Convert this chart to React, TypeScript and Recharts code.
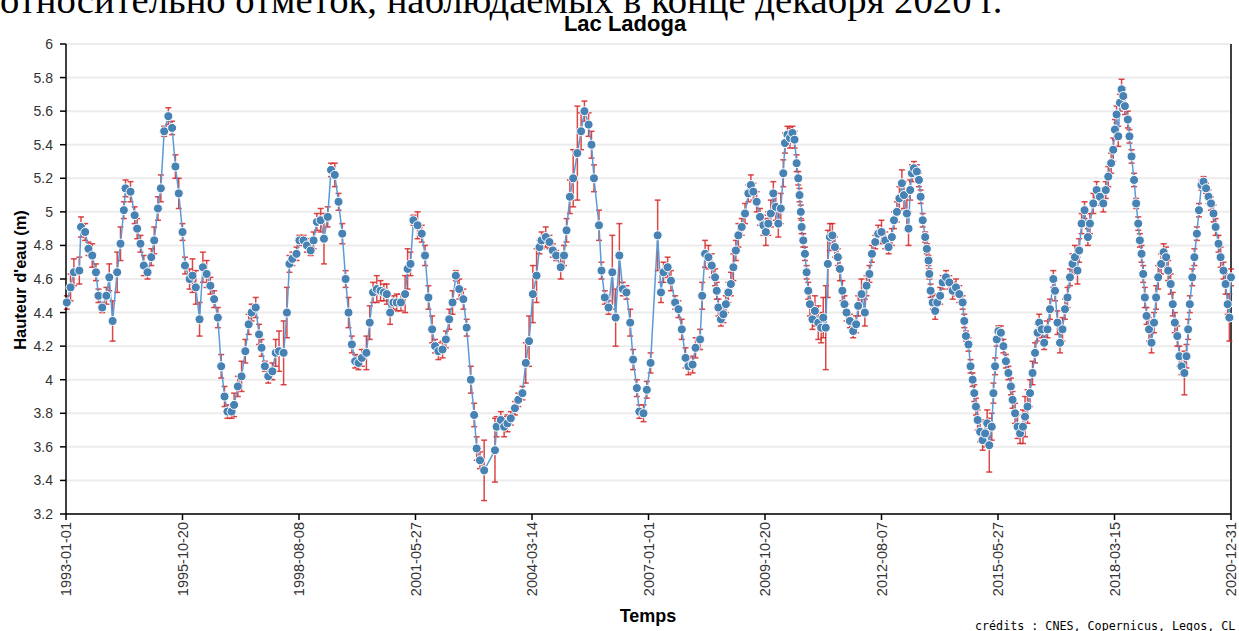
import React from 'react'
import { LineChart, Line, XAxis, YAxis, CartesianGrid, ErrorBar, ReferenceLine } from 'recharts'

// Lac Ladoga — hauteur d'eau (m), dates en années décimales
const dates = [
  1993.02, 1993.11, 1993.19, 1993.32, 1993.36, 1993.46, 1993.54, 1993.63, 1993.72, 1993.78, 1993.87, 1993.97,
  1994.04, 1994.12, 1994.23, 1994.31, 1994.39, 1994.43, 1994.55, 1994.65, 1994.71, 1994.79, 1994.87, 1994.96,
  1995.05, 1995.12, 1995.21, 1995.28, 1995.36, 1995.46, 1995.55, 1995.63, 1995.71, 1995.80, 1995.86, 1995.97,
  1996.04, 1996.12, 1996.21, 1996.29, 1996.38, 1996.47, 1996.56, 1996.65, 1996.73, 1996.81, 1996.88, 1996.98,
  1997.04, 1997.13, 1997.22, 1997.31, 1997.39, 1997.46, 1997.56, 1997.64, 1997.70, 1997.78, 1997.86, 1997.96,
  1998.04, 1998.12, 1998.23, 1998.31, 1998.37, 1998.44, 1998.54, 1998.61, 1998.71, 1998.79, 1998.88, 1998.95,
  1999.03, 1999.12, 1999.20, 1999.29, 1999.37, 1999.46, 1999.55, 1999.64, 1999.72, 1999.79, 1999.87, 1999.95,
  2000.03, 2000.11, 2000.22, 2000.30, 2000.38, 2000.47, 2000.56, 2000.64, 2000.71, 2000.79, 2000.87, 2000.95,
  2001.05, 2001.15, 2001.21, 2001.28, 2001.35, 2001.45, 2001.55, 2001.63, 2001.71, 2001.80, 2001.87, 2001.95,
  2002.05, 2002.13, 2002.21, 2002.29, 2002.37, 2002.45, 2002.55, 2002.63, 2002.73, 2002.81, 2002.87, 2002.95,
  2003.05, 2003.31, 2003.35, 2003.45, 2003.53, 2003.61, 2003.69, 2003.79, 2003.87, 2003.97,
  2004.05, 2004.13, 2004.22, 2004.31, 2004.38, 2004.43, 2004.53, 2004.62, 2004.70, 2004.78, 2004.89, 2004.97,
  2005.03, 2005.11, 2005.19, 2005.29, 2005.38, 2005.46, 2005.56, 2005.63, 2005.69, 2005.81, 2005.87, 2005.95,
  2006.04, 2006.13, 2006.21, 2006.30, 2006.38, 2006.47, 2006.56, 2006.63, 2006.72, 2006.78, 2006.88, 2006.96,
  2007.05, 2007.22, 2007.30, 2007.36, 2007.46, 2007.54, 2007.64, 2007.72, 2007.80, 2007.89, 2007.96,
  2008.06, 2008.13, 2008.24, 2008.29, 2008.36, 2008.44, 2008.52, 2008.60, 2008.64, 2008.68, 2008.74, 2008.80, 2008.86, 2008.92, 2008.98,
  2009.04, 2009.10, 2009.16, 2009.24, 2009.32, 2009.40, 2009.46, 2009.52, 2009.60, 2009.68, 2009.76, 2009.82, 2009.88, 2009.94,
  2010.00, 2010.06, 2010.12, 2010.18, 2010.24, 2010.28, 2010.34, 2010.40, 2010.46, 2010.51, 2010.56, 2010.60, 2010.63, 2010.66, 2010.68, 2010.72, 2010.76, 2010.80, 2010.84, 2010.88, 2010.94,
  2011.00, 2011.08, 2011.15, 2011.20, 2011.26, 2011.31, 2011.36, 2011.42, 2011.48, 2011.55, 2011.60, 2011.66, 2011.71, 2011.76, 2011.84, 2011.92, 2011.99,
  2012.04, 2012.12, 2012.20, 2012.24, 2012.31, 2012.37, 2012.45, 2012.52, 2012.60, 2012.69, 2012.77, 2012.85, 2012.90, 2012.97,
  2013.03, 2013.09, 2013.14, 2013.21, 2013.25, 2013.29, 2013.33, 2013.38, 2013.45, 2013.50, 2013.54, 2013.59, 2013.65, 2013.69, 2013.73, 2013.75, 2013.78, 2013.83, 2013.89, 2013.94,
  2014.01, 2014.07, 2014.15, 2014.23, 2014.31, 2014.39, 2014.47, 2014.55, 2014.59, 2014.63, 2014.69, 2014.74, 2014.79, 2014.83, 2014.87, 2014.91, 2014.97,
  2015.03, 2015.09, 2015.14, 2015.19, 2015.25, 2015.29, 2015.33, 2015.37, 2015.41, 2015.47, 2015.53, 2015.59, 2015.65, 2015.71, 2015.75, 2015.81, 2015.87, 2015.93,
  2016.00, 2016.05, 2016.11, 2016.17, 2016.23, 2016.29, 2016.35, 2016.39, 2016.45, 2016.51, 2016.59, 2016.65, 2016.73, 2016.77, 2016.83, 2016.89, 2016.95,
  2017.01, 2017.07, 2017.13, 2017.19, 2017.25, 2017.31, 2017.35, 2017.41, 2017.48, 2017.56, 2017.61, 2017.69, 2017.77, 2017.85, 2017.93, 2017.99,
  2018.05, 2018.12, 2018.17, 2018.21, 2018.25, 2018.29, 2018.33, 2018.37, 2018.41, 2018.45, 2018.52, 2018.56, 2018.61, 2018.67, 2018.72, 2018.77, 2018.81, 2018.85, 2018.89, 2018.93, 2018.97,
  2019.03, 2019.09, 2019.15, 2019.20, 2019.25, 2019.32, 2019.38, 2019.44, 2019.49, 2019.55, 2019.60, 2019.65, 2019.71, 2019.76, 2019.81, 2019.88, 2019.93, 2019.97,
  2020.01, 2020.07, 2020.12, 2020.18, 2020.23, 2020.29, 2020.34, 2020.40, 2020.46, 2020.52, 2020.58, 2020.63, 2020.70, 2020.75, 2020.82, 2020.87, 2020.92, 2020.96, 2021.00,
]

const levels = [
  4.46, 4.55, 4.64, 4.65, 4.91, 4.88, 4.78, 4.74, 4.64, 4.50, 4.43, 4.50,
  4.61, 4.35, 4.64, 4.81, 5.01, 5.14, 5.12, 4.98, 4.90, 4.81, 4.68, 4.64,
  4.73, 4.83, 5.02, 5.14, 5.48, 5.57, 5.50, 5.27, 5.11, 4.88, 4.68, 4.60,
  4.62, 4.55, 4.36, 4.67, 4.63, 4.56, 4.48, 4.37, 4.08, 3.90, 3.81, 3.81,
  3.85, 3.96, 4.02, 4.17, 4.33, 4.40, 4.43, 4.27, 4.19, 4.08, 4.02, 4.05,
  4.16, 4.17, 4.16, 4.40, 4.69, 4.72, 4.75, 4.83, 4.83, 4.80, 4.77, 4.83,
  4.94, 4.95, 4.84, 4.97, 5.25, 5.22, 5.06, 4.87, 4.60, 4.40, 4.21, 4.11,
  4.10, 4.13, 4.16, 4.34, 4.52, 4.54, 4.53, 4.52, 4.51, 4.40, 4.46, 4.46,
  4.46, 4.51, 4.66, 4.69, 4.95, 4.92, 4.87, 4.74, 4.49, 4.30, 4.20, 4.17,
  4.18, 4.24, 4.36, 4.46, 4.62, 4.54, 4.48, 4.31, 4.00, 3.79, 3.59, 3.52,
  3.46, 3.58, 3.72, 3.76, 3.72, 3.74, 3.77, 3.83, 3.88, 3.92,
  4.10, 4.23, 4.51, 4.62, 4.79, 4.83, 4.85, 4.82, 4.77, 4.74, 4.67, 4.74,
  4.89, 5.09, 5.20, 5.35, 5.48, 5.60, 5.52, 5.40, 5.20, 4.92, 4.65, 4.49,
  4.43, 4.64, 4.37, 4.74, 4.54, 4.52, 4.34, 4.12, 3.95, 3.81, 3.80, 3.94,
  4.10, 4.86, 4.52, 4.64, 4.67, 4.59, 4.46, 4.42, 4.30, 4.13, 4.08,
  4.09, 4.19, 4.24, 4.50, 4.75, 4.73, 4.68, 4.61, 4.53, 4.43, 4.36, 4.39, 4.45, 4.52, 4.57,
  4.67, 4.77, 4.86, 4.91, 4.99, 5.11, 5.16, 5.12, 5.06, 4.97, 4.92, 4.88, 4.93, 4.99,
  5.11, 5.03, 4.93, 5.02, 5.23, 5.41, 5.46, 5.44, 5.47, 5.43, 5.29, 5.20, 5.10, 5.00, 4.91, 4.83, 4.75, 4.64, 4.53, 4.45, 4.36,
  4.41, 4.34, 4.31, 4.37, 4.31, 4.69, 4.85, 4.86, 4.79, 4.73, 4.66, 4.53, 4.45, 4.40, 4.35, 4.29, 4.33,
  4.44, 4.51, 4.40, 4.56, 4.63, 4.75, 4.82, 4.87, 4.88, 4.83, 4.79, 4.85, 4.95, 5.00,
  5.08, 5.17, 5.10, 4.99, 4.90, 5.13, 5.23, 5.26, 5.24, 5.19, 5.09, 4.95, 4.85, 4.78, 4.71, 4.63, 4.53, 4.46, 4.41, 4.46,
  4.50, 4.58, 4.61, 4.58, 4.53, 4.55, 4.51, 4.46, 4.35, 4.26, 4.21, 4.08, 4.00, 3.92, 3.84, 3.76, 3.69,
  3.64, 3.68, 3.74, 3.61, 3.72, 3.92, 4.08, 4.24, 4.29, 4.28, 4.20, 4.11, 4.04, 3.96, 3.88, 3.80, 3.72, 3.68,
  3.72, 3.78, 3.84, 3.92, 4.04, 4.16, 4.28, 4.34, 4.30, 4.22, 4.30, 4.42, 4.60, 4.53, 4.34, 4.22, 4.30,
  4.42, 4.49, 4.61, 4.69, 4.73, 4.65, 4.77, 4.93, 5.01, 4.85, 4.93, 5.05, 5.13, 5.09, 5.05, 5.13,
  5.21, 5.29, 5.37, 5.49, 5.58, 5.45, 5.65, 5.73, 5.69, 5.63, 5.55, 5.45, 5.33, 5.19, 5.05, 4.93, 4.83, 4.75, 4.63, 4.49, 4.38,
  4.30, 4.22, 4.34, 4.49, 4.61, 4.69, 4.76, 4.73, 4.65, 4.57, 4.45, 4.34, 4.26, 4.14, 4.08, 4.04, 4.14, 4.30,
  4.45, 4.61, 4.73, 4.87, 5.01, 5.16, 5.18, 5.14, 5.09, 5.05, 4.99, 4.91, 4.81, 4.73, 4.65, 4.57, 4.45, 4.37, 4.61,
]

const errors = [
  0.04, 0.08, 0.08, 0.08, 0.06, 0.05, 0.04, 0.07, 0.05, 0.04, 0.03, 0.05,
  0.08, 0.12, 0.12, 0.10, 0.05, 0.05, 0.06, 0.05, 0.06, 0.05, 0.06, 0.04,
  0.05, 0.08, 0.07, 0.08, 0.03, 0.05, 0.04, 0.07, 0.09, 0.05, 0.05, 0.06,
  0.10, 0.10, 0.10, 0.09, 0.08, 0.05, 0.05, 0.06, 0.07, 0.06, 0.04, 0.04,
  0.07, 0.06, 0.09, 0.07, 0.06, 0.05, 0.06, 0.06, 0.05, 0.03, 0.04, 0.05,
  0.08, 0.12, 0.19, 0.15, 0.05, 0.04, 0.04, 0.03, 0.03, 0.04, 0.03, 0.05,
  0.05, 0.07, 0.15, 0.06, 0.04, 0.07, 0.05, 0.06, 0.05, 0.09, 0.05, 0.04,
  0.04, 0.05, 0.10, 0.10, 0.06, 0.08, 0.06, 0.05, 0.06, 0.07, 0.04, 0.05,
  0.05, 0.11, 0.12, 0.07, 0.03, 0.08, 0.05, 0.06, 0.07, 0.08, 0.04, 0.05,
  0.05, 0.05, 0.06, 0.07, 0.03, 0.06, 0.06, 0.05, 0.08, 0.07, 0.07, 0.05,
  0.18, 0.19, 0.06, 0.05, 0.06, 0.05, 0.04, 0.04, 0.04, 0.04,
  0.12, 0.15, 0.17, 0.16, 0.04, 0.05, 0.06, 0.04, 0.04, 0.03, 0.07, 0.06,
  0.07, 0.10, 0.17, 0.28, 0.11, 0.06, 0.07, 0.08, 0.08, 0.09, 0.05, 0.04,
  0.04, 0.22, 0.17, 0.19, 0.04, 0.04, 0.08, 0.06, 0.05, 0.04, 0.05, 0.05,
  0.06, 0.21, 0.06, 0.06, 0.06, 0.06, 0.04, 0.05, 0.06, 0.06, 0.05,
  0.05, 0.06, 0.06, 0.08, 0.08, 0.07, 0.07, 0.05, 0.05, 0.05, 0.04, 0.05, 0.05, 0.06, 0.07,
  0.08, 0.06, 0.07, 0.05, 0.06, 0.05, 0.06, 0.05, 0.06, 0.05, 0.06, 0.08, 0.07, 0.08,
  0.07, 0.08, 0.08, 0.09, 0.08, 0.06, 0.05, 0.06, 0.04, 0.05, 0.05, 0.04, 0.04, 0.04, 0.04, 0.04, 0.04, 0.04, 0.05, 0.07, 0.06,
  0.09, 0.10, 0.09, 0.12, 0.25, 0.20, 0.08, 0.07, 0.06, 0.05, 0.07, 0.06, 0.05, 0.05, 0.04, 0.04, 0.05,
  0.06, 0.09, 0.08, 0.06, 0.05, 0.05, 0.04, 0.05, 0.07, 0.05, 0.04, 0.05, 0.05, 0.06,
  0.07, 0.08, 0.08, 0.10, 0.10, 0.06, 0.05, 0.04, 0.04, 0.04, 0.04, 0.04, 0.03, 0.03, 0.03, 0.03, 0.04, 0.04, 0.05, 0.05,
  0.05, 0.04, 0.04, 0.04, 0.05, 0.05, 0.05, 0.04, 0.04, 0.03, 0.04, 0.04, 0.04, 0.05, 0.05, 0.06, 0.06,
  0.06, 0.08, 0.08, 0.16, 0.08, 0.06, 0.05, 0.04, 0.03, 0.04, 0.04, 0.04, 0.04, 0.05, 0.05, 0.06, 0.07, 0.06,
  0.10, 0.12, 0.10, 0.08, 0.07, 0.06, 0.05, 0.05, 0.05, 0.04, 0.05, 0.06, 0.05, 0.06, 0.07, 0.06, 0.07,
  0.06, 0.06, 0.05, 0.06, 0.07, 0.08, 0.07, 0.06, 0.05, 0.05, 0.06, 0.06, 0.05, 0.05, 0.05, 0.05,
  0.06, 0.06, 0.07, 0.06, 0.05, 0.06, 0.05, 0.06, 0.05, 0.05, 0.05, 0.04, 0.04, 0.04, 0.03, 0.04, 0.04, 0.05, 0.05, 0.06, 0.05,
  0.07, 0.06, 0.06, 0.07, 0.07, 0.06, 0.05, 0.06, 0.06, 0.06, 0.07, 0.06, 0.06, 0.06, 0.05, 0.13, 0.07, 0.06,
  0.05, 0.05, 0.05, 0.04, 0.04, 0.03, 0.03, 0.03, 0.04, 0.04, 0.05, 0.05, 0.05, 0.06, 0.05, 0.06, 0.06, 0.14, 0.05,
]

const tickDates = [1993, 1995.8, 1998.6, 2001.4, 2004.2, 2007, 2009.8, 2012.6, 2015.4, 2018.2, 2021]
const tickLabels = [
  '1993-01-01', '1995-10-20', '1998-08-08', '2001-05-27', '2004-03-14', '2007-01-01',
  '2009-10-20', '2012-08-07', '2015-05-27', '2018-03-15', '2020-12-31',
]
const levelTicks = [3.2, 3.4, 3.6, 3.8, 4, 4.2, 4.4, 4.6, 4.8, 5, 5.2, 5.4, 5.6, 5.8, 6]

const data = dates.map((t, i) => ({ t, h: levels[i], err: errors[i] }))

const SANS = '"Liberation Sans", Arial, sans-serif'

function DateTick(props: any) {
  const { x, y, payload } = props
  const idx = tickDates.findIndex(d => Math.abs(d - payload.value) < 0.01)
  return (
    <text x={x} y={y} dy="0.35em" textAnchor="end" transform={`rotate(-90, ${x}, ${y})`}
      fontSize={14.5} fill="#333" fontFamily={SANS}>
      {tickLabels[idx]}
    </text>
  )
}

export default function App() {
  return (
    <div style={styles.page}>
      <LineChart width={1239} height={631} data={data} margin={{ top: 44, right: 8, bottom: 0, left: 0 }}>
        <CartesianGrid vertical={false} stroke="#ececec" strokeWidth={2} />
        <XAxis dataKey="t" type="number" domain={[1993, 2021]} ticks={tickDates} interval={0}
          height={117} tick={<DateTick />} tickSize={6} tickMargin={2}
          axisLine={{ stroke: '#000', strokeWidth: 1.5 }} tickLine={{ stroke: '#000', strokeWidth: 1.5 }} />
        <YAxis type="number" domain={[3.2, 6]} ticks={levelTicks} interval={0} width={66}
          tickFormatter={(v: number) => String(Math.round(v * 10) / 10)}
          tick={{ fontSize: 14, fill: '#333', fontFamily: SANS }} tickSize={6} tickMargin={7}
          axisLine={{ stroke: '#000', strokeWidth: 1.5 }} tickLine={{ stroke: '#000', strokeWidth: 1.5 }} />
        <ReferenceLine x={2021} stroke="#000" strokeWidth={1.5} />
        <Line type="linear" dataKey="h" stroke="#5b9bd5" strokeWidth={1.5}
          dot={{ r: 4.5, fill: '#4682b4', stroke: '#ffffff', strokeWidth: 1 }}
          activeDot={false} isAnimationActive={false}>
          <ErrorBar dataKey="err" direction="y" width={3} stroke="#d62728" strokeWidth={1.5} strokeOpacity={0.85} />
        </Line>
      </LineChart>

      <svg width={1239} height={631} style={styles.overlay}>
        <text x={0} y={13} fontSize={38.7} fontFamily='"Liberation Serif", "Times New Roman", serif' fill="#000">
          относительно отметок, наблюдаемых в конце декабря 2020 г.
        </text>
        <text x={625} y={31} textAnchor="middle" fontSize={22} fontWeight="bold" fontFamily={SANS} fill="#000">
          Lac Ladoga
        </text>
        <text x={20} y={280} dy="0.35em" textAnchor="middle" transform="rotate(-90, 20, 280)"
          fontSize={16.5} fontWeight="bold" fontFamily={SANS} fill="#000">
          Hauteur d'eau (m)
        </text>
        <text x={648} y={622} textAnchor="middle" fontSize={18} fontWeight="bold" fontFamily={SANS} fill="#000">
          Temps
        </text>
        <text x={975} y={630} fontSize={11.7} fontFamily='"DejaVu Sans Mono", monospace' fill="#000">
          crédits : CNES, Copernicus, Legos, CL
        </text>
      </svg>
    </div>
  )
}

const styles: Record<string, React.CSSProperties> = {
  page: { position: 'absolute', left: 0, top: 0, width: 1239, height: 631, background: '#fff', overflow: 'hidden' },
  overlay: { position: 'absolute', left: 0, top: 0, pointerEvents: 'none' },
}
